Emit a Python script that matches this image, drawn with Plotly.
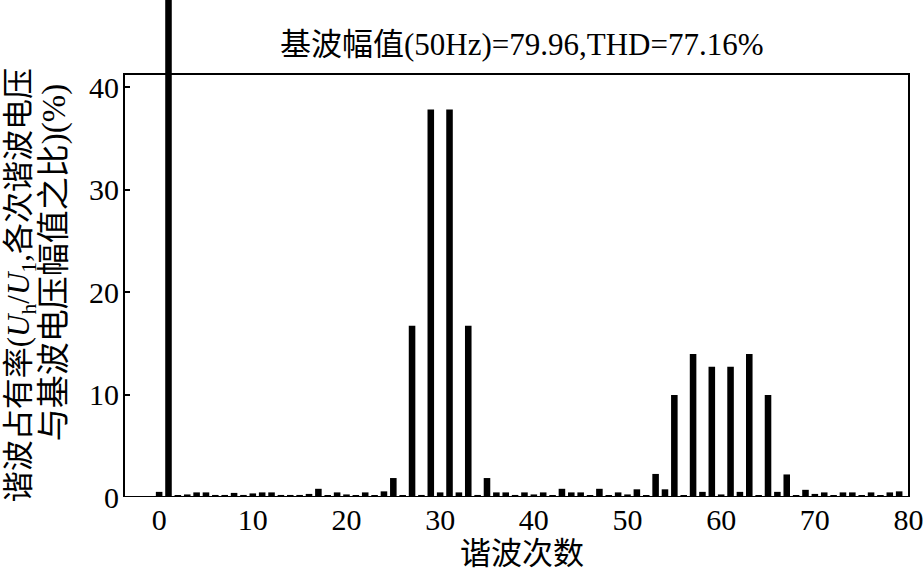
import plotly.graph_objects as go

# ---- data ----
harmonic_order = list(range(0, 80))
ratio_percent = [
    0.5, 100.0, 0.15, 0.25, 0.45, 0.45, 0.2, 0.2, 0.4, 0.2,      # 0-9
    0.35, 0.45, 0.45, 0.2, 0.2, 0.2, 0.3, 0.8, 0.15, 0.45,       # 10-19
    0.25, 0.15, 0.45, 0.15, 0.55, 1.85, 0.15, 16.7, 0.2, 37.8,   # 20-29
    0.45, 37.8, 0.45, 16.7, 0.2, 1.85, 0.45, 0.45, 0.2, 0.45,    # 30-39
    0.25, 0.45, 0.15, 0.8, 0.45, 0.45, 0.15, 0.8, 0.15, 0.45,    # 40-49
    0.25, 0.75, 0.15, 2.25, 0.75, 9.95, 0.15, 13.95, 0.5, 12.7,  # 50-59
    0.25, 12.7, 0.5, 13.95, 0.15, 9.95, 0.5, 2.2, 0.15, 0.7,     # 60-69
    0.3, 0.45, 0.15, 0.45, 0.45, 0.15, 0.45, 0.15, 0.45, 0.55,   # 70-79
]
x_ticks = [0, 10, 20, 30, 40, 50, 60, 70, 80]
y_ticks = [0, 10, 20, 30, 40]

title_text = "基波幅值(50Hz)=79.96,THD=77.16%"
x_title = "谐波次数"
y_title_line1 = "谐波占有率(<i>U</i><sub>h</sub>/<i>U</i><sub>1</sub>,各次谐波电压"
y_title_line2 = "与基波电压幅值之比)(%)"

FONT = "Liberation Serif, Noto Sans CJK SC, serif"
W, H = 924, 570
L, R, T, B = 124, 13, 0, 73
plot_h = H - T - B
plot_w = W - L - R
px_per_unit = 10.25
y_top = plot_h / px_per_unit
box_top = (497 - 74) / px_per_unit

fig = go.Figure(
    go.Bar(
        x=harmonic_order,
        y=ratio_percent,
        width=0.7,
        marker=dict(color="black", line=dict(width=0)),
    )
)

fig.update_layout(
    width=W,
    height=H,
    margin=dict(l=L, r=R, t=T, b=B),
    paper_bgcolor="white",
    plot_bgcolor="white",
    showlegend=False,
    font=dict(family=FONT, size=30, color="black"),
    xaxis=dict(
        range=[-3.75, 80.05],
        tickvals=x_ticks,
        ticks="",
        showline=False,
        showgrid=False,
        zeroline=False,
        tickfont=dict(family=FONT, size=30, color="black"),
        ticklabelstandoff=2,
        ticklabeloverflow="allow",
    ),
    yaxis=dict(
        range=[0, y_top],
        tickvals=y_ticks,
        ticks="inside",
        ticklen=6,
        tickwidth=2,
        tickcolor="black",
        showline=False,
        showgrid=False,
        zeroline=False,
        tickfont=dict(family=FONT, size=30, color="black"),
        ticklabelstandoff=4,
    ),
    shapes=[
        dict(
            type="rect", xref="paper", yref="y",
            x0=0, x1=1, y0=0, y1=box_top,
            line=dict(color="black", width=2),
            fillcolor="rgba(0,0,0,0)", layer="above",
        )
    ],
    annotations=[
        dict(text=title_text, xref="paper", yref="paper",
             x=(523 - L) / plot_w, y=(497 - 44) / plot_h,
             xanchor="center", yanchor="middle", showarrow=False,
             font=dict(family=FONT, size=31, color="black")),
        dict(text=x_title, xref="paper", yref="paper",
             x=(523 - L) / plot_w, y=(497 - 553) / plot_h,
             xanchor="center", yanchor="middle", showarrow=False,
             font=dict(family=FONT, size=31, color="black")),
        dict(text=y_title_line1, xref="paper", yref="paper",
             x=(21 - L) / plot_w, y=(497 - 285) / plot_h,
             xanchor="center", yanchor="middle", textangle=-90, showarrow=False,
             font=dict(family=FONT, size=31, color="black")),
        dict(text=y_title_line2, xref="paper", yref="paper",
             x=(54 - L) / plot_w, y=(497 - 263) / plot_h,
             xanchor="center", yanchor="middle", textangle=-90, showarrow=False,
             font=dict(family=FONT, size=33, color="black")),
    ],
)

fig.write_html(
    "out.html",
    config={"displayModeBar": False},
    post_script="document.body.style.margin='0';document.body.style.padding='0';",
)
